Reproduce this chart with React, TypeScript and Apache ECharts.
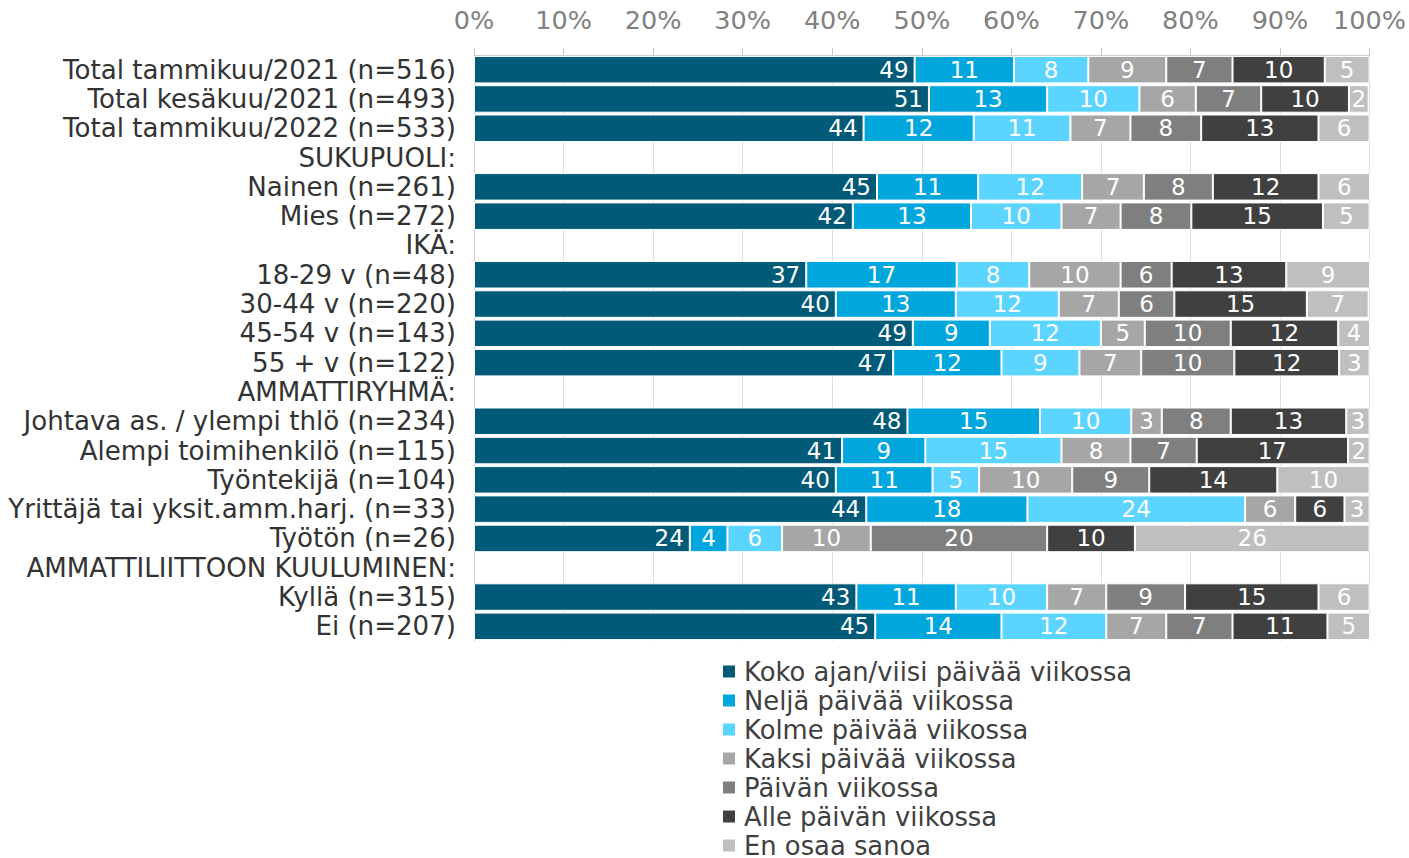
import React, { useEffect, useRef } from "react";
import * as echarts from "echarts";

const categories = [
  "Total tammikuu/2021 (n=516)",
  "Total kesäkuu/2021 (n=493)",
  "Total tammikuu/2022 (n=533)",
  "SUKUPUOLI:",
  "Nainen (n=261)",
  "Mies (n=272)",
  "IKÄ:",
  "18-29 v (n=48)",
  "30-44 v (n=220)",
  "45-54 v (n=143)",
  "55 + v (n=122)",
  "AMMATTIRYHMÄ:",
  "Johtava as. / ylempi thlö (n=234)",
  "Alempi toimihenkilö (n=115)",
  "Työntekijä (n=104)",
  "Yrittäjä tai yksit.amm.harj. (n=33)",
  "Työtön (n=26)",
  "AMMATTILIITTOON KUULUMINEN:",
  "Kyllä (n=315)",
  "Ei (n=207)",
];

const seriesNames = [
  "Koko ajan/viisi päivää viikossa",
  "Neljä päivää viikossa",
  "Kolme päivää viikossa",
  "Kaksi päivää viikossa",
  "Päivän viikossa",
  "Alle päivän viikossa",
  "En osaa sanoa",
];

const koko = [49.2, 50.8, 43.5, null, 45.0, 42.3, null, 37.1, 40.4, 49.0, 46.8, null, 48.4, 41.1, 40.4, 43.8, 24.1, null, 42.7, 44.8];
const nelja = [11.1, 13.2, 12.3, null, 11.3, 13.2, null, 16.8, 13.4, 8.6, 12.1, null, 14.8, 9.3, 10.8, 18.0, 4.2, null, 11.1, 14.1];
const kolme = [8.3, 10.3, 10.8, null, 11.6, 10.1, null, 8.1, 11.5, 12.4, 8.7, null, 10.2, 15.2, 5.2, 24.3, 6.1, null, 10.2, 11.7];
const kaksi = [8.7, 6.3, 6.7, null, 6.9, 6.6, null, 10.2, 6.7, 4.9, 6.9, null, 3.4, 7.7, 10.4, 5.6, 9.9, null, 6.6, 6.7];
const paivan = [7.4, 7.3, 7.9, null, 7.7, 7.9, null, 5.7, 6.2, 9.6, 10.4, null, 7.7, 7.4, 8.6, 0, 19.7, null, 8.8, 7.4];
const alle = [10.3, 9.8, 13.1, null, 11.8, 14.7, null, 12.8, 14.8, 12.0, 11.7, null, 12.9, 16.9, 14.3, 5.5, 9.8, null, 14.9, 10.6];
const enOsaa = [5.0, 2.2, 5.7, null, 5.8, 5.2, null, 9.4, 6.9, 3.6, 3.4, null, 2.6, 2.4, 10.3, 2.8, 26.2, null, 5.7, 4.8];

const seriesData = [koko, nelja, kolme, kaksi, paivan, alle, enOsaa];
const colors = ["#005a78", "#00a6dc", "#5bd4ff", "#a6a6a6", "#7f7f7f", "#404040", "#bfbfbf"];
const xTicks = { min: 0, max: 100, interval: 10 };

const FONT = "'DejaVu Sans', Verdana, sans-serif";

export default function App() {
  const ref = useRef<HTMLDivElement>(null);
  useEffect(() => {
    if (!ref.current) return;
    const chart = echarts.init(ref.current, undefined, { renderer: "svg" });
    chart.setOption({
      animation: false,
      textStyle: { fontFamily: FONT },
      grid: { left: 474, right: 38, top: 55, height: 586, containLabel: false },
      xAxis: {
        type: "value",
        position: "top",
        min: xTicks.min,
        max: xTicks.max,
        interval: xTicks.interval,
        axisLabel: {
          formatter: "{value}%",
          color: "#808080",
          fontSize: 25.5,
          fontFamily: FONT,
          margin: 22,
        },
        axisLine: { show: true, lineStyle: { color: "#c8c8c8", width: 1 } },
        axisTick: { show: true, length: 7, lineStyle: { color: "#c8c8c8" } },
        splitLine: { show: true, lineStyle: { color: "#dedede", width: 1 } },
      },
      yAxis: {
        type: "category",
        inverse: true,
        data: categories,
        axisLabel: {
          interval: 0,
          color: "#333333",
          fontSize: 26.1,
          fontFamily: FONT,
          margin: 18,
        },
        axisLine: { show: true, lineStyle: { color: "#d0d0d0" } },
        axisTick: { show: false },
      },
      legend: {
        orient: "vertical",
        left: 716,
        top: 652,
        height: 220,
        itemWidth: 14,
        itemHeight: 14,
        itemGap: 0,
        icon: "rect",
        data: seriesNames,
        textStyle: {
          color: "#404040",
          fontSize: 25.8,
          fontFamily: FONT,
          lineHeight: 29,
          padding: [0, 0, 0, 3],
        },
      },
      series: seriesNames.map((name, i) => ({
        name,
        type: "bar",
        stack: "total",
        data: seriesData[i],
        barWidth: 27.5,
        itemStyle: { color: colors[i], borderColor: "#ffffff", borderWidth: 1 },
        label: {
          show: true,
          position: i === 0 ? "insideRight" : "inside",
          distance: 6,
          color: "#ffffff",
          fontSize: 23,
          fontFamily: FONT,
          formatter: (p: any) => (p.value == null || p.value === 0 ? "" : String(Math.round(p.value))),
        },
      })),
    });
    return () => chart.dispose();
  }, []);
  return (
    <div
      ref={ref}
      style={{ position: "fixed", left: 0, top: 0, width: 1409, height: 858, background: "#ffffff" }}
    />
  );
}
